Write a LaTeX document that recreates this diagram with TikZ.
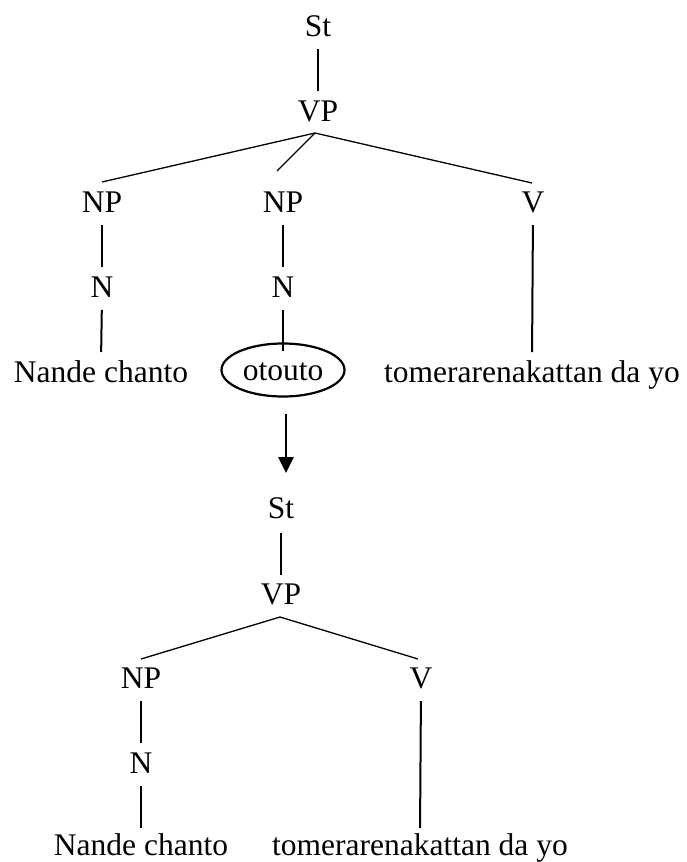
\documentclass[tikz,border=0pt]{standalone}
\usepackage{fontspec}
\setmainfont{Liberation Serif}
\usetikzlibrary{shapes.geometric,arrows.meta}
\begin{document}
\begin{tikzpicture}[x=1pt,y=-1pt,
  lbl/.style={inner sep=0pt, outer sep=0pt, anchor=base, text height=21pt,
    text depth=0pt, font=\fontsize{31.5}{36}\selectfont},
  vedge/.style={line width=2pt, shorten <=13pt, shorten >=9pt},
  dedge/.style={line width=1.3pt},
  circled/.style={lbl, anchor=center, ellipse, draw, line width=2.2pt,
    minimum width=123pt, minimum height=53pt},
  move/.style={line width=2.8pt, -{Triangle[length=16pt,width=15pt]}}]
\useasboundingbox (0,0) rectangle (686,862);

% upper tree
\node[lbl] (st1) at (318,36) {St};
\node[lbl] (vp1) at (318,121) {VP};
\node[lbl] (np1) at (102,212) {NP};
\node[lbl] (np2) at (283,212) {NP};
\node[lbl] (v1)  at (533,212) {V};
\node[lbl] (n1)  at (102,297) {N};
\node[lbl] (n2)  at (283,297) {N};
\node[lbl] (w1)  at (101,382) {Nande chanto};
\node[circled] (oto) at (283,370) {otouto};
\node[lbl] (w3)  at (532,382) {tomerarenakattan da yo};

\draw[vedge] (st1.south) -- (vp1.north);
\draw[dedge] ([xshift=-3pt,yshift=-12pt]vp1.south) -- ([yshift=9pt]np1.north);
\draw[dedge] ([xshift=-3pt,yshift=-12pt]vp1.south) -- ([xshift=-6pt,yshift=20pt]np2.north);
\draw[dedge] ([xshift=-3pt,yshift=-12pt]vp1.south) -- ([xshift=-1pt,yshift=8pt]v1.north);
\draw[vedge] (np1.south) -- (n1.north);
\draw[vedge] (np2.south) -- (n2.north);
\draw[vedge] (n1.south) -- (w1.north);
\draw[line width=2pt, shorten <=13pt] (n2.south) -- ([yshift=-7pt]oto.north);
\draw[vedge] (v1.south) -- (w3.north);

% lower tree
\node[lbl] (st2) at (281,518) {St};
\node[lbl] (vp2) at (281,604) {VP};
\node[lbl] (np3) at (141,688) {NP};
\node[lbl] (v2)  at (421,688) {V};
\node[lbl] (n3)  at (141,773) {N};
\node[lbl] (w4)  at (141,855) {Nande chanto};
\node[lbl] (w5)  at (420,855) {tomerarenakattan da yo};

\draw[line width=2pt, shorten <=15pt, shorten >=8pt] (st2.south) -- (vp2.north);
\draw[dedge] ([xshift=-1pt,yshift=-13pt]vp2.south) -- ([yshift=8pt]np3.north);
\draw[dedge] ([xshift=-1pt,yshift=-13pt]vp2.south) -- ([xshift=-3pt,yshift=8pt]v2.north);
\draw[vedge] (np3.south) -- (n3.north);
\draw[line width=2pt, shorten <=13pt, shorten >=6pt] (n3.south) -- (w4.north);
\draw[line width=2pt, shorten <=13pt, shorten >=6pt] (v2.south) -- (w5.north);

% transformation arrow between the two trees
\draw[move] ([xshift=3pt,yshift=-17pt]oto.south) -- ([xshift=5pt,yshift=24pt]st2.north);
\end{tikzpicture}
\end{document}
